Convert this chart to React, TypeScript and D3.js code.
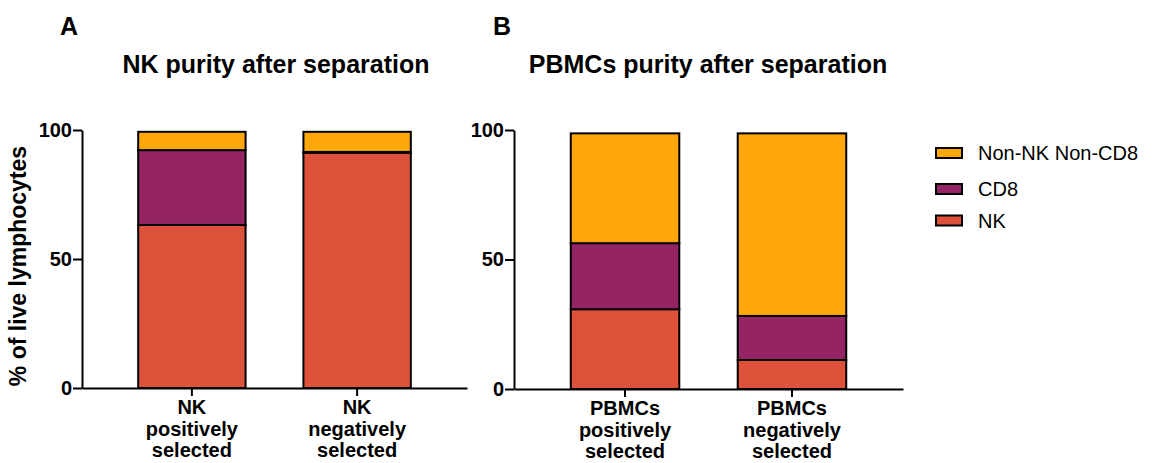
import { useEffect, useRef } from 'react';
import * as d3 from 'd3';

const seriesKeys = ['nk', 'cd8', 'other'];
const seriesLabels = ['NK', 'CD8', 'Non-NK Non-CD8'];
const seriesColors = ['#DE513A', '#952464', '#FDA70B'];

const nkCategories = [['NK', 'positively', 'selected'], ['NK', 'negatively', 'selected']];
const nkValues = [
  { nk: 63.2, cd8: 29.0, other: 7.1 },
  { nk: 91.2, cd8: 0.3, other: 7.8 },
];

const pbmcCategories = [['PBMCs', 'positively', 'selected'], ['PBMCs', 'negatively', 'selected']];
const pbmcValues = [
  { nk: 30.8, cd8: 25.5, other: 42.4 },
  { nk: 11.2, cd8: 17.0, other: 70.5 },
];

const yTicks = [0, 50, 100];

type Row = { nk: number; cd8: number; other: number };

export default function App() {
  const svgRef = useRef<SVGSVGElement>(null);

  useEffect(() => {
    if (!svgRef.current) return;
    const svg = d3.select(svgRef.current);
    svg.selectAll('*').remove();

    const font = '"Liberation Sans", Arial, sans-serif';

    const drawPanel = (
      letter: string,
      letterX: number,
      title: string,
      titleX: number,
      cats: string[][],
      rows: Row[],
      x0: number,
      x1: number,
      yTop: number,
      yBottom: number,
      showYLabel: boolean,
    ) => {
      const g = svg.append('g');

      g.append('text')
        .attr('x', letterX)
        .attr('y', 35)
        .style('font-family', font)
        .style('font-weight', 'bold')
        .style('font-size', '25px')
        .text(letter);

      g.append('text')
        .attr('x', titleX)
        .attr('y', 73)
        .attr('text-anchor', 'middle')
        .style('font-family', font)
        .style('font-weight', 'bold')
        .style('font-size', '25px')
        .text(title);

      const x = d3.scaleBand<number>()
        .domain(rows.map((_, i) => i))
        .range([x0, x1])
        .paddingInner(0.35)
        .paddingOuter(0.34);

      const y = d3.scaleLinear().domain([0, 100]).range([yBottom, yTop]);

      const stacked = d3.stack<Row>().keys(seriesKeys)(rows);

      stacked.forEach((layer, li) => {
        g.selectAll(null)
          .data(layer)
          .enter()
          .append('rect')
          .attr('x', (_, i) => x(i)!)
          .attr('width', x.bandwidth())
          .attr('y', d => y(d[1]))
          .attr('height', d => y(d[0]) - y(d[1]))
          .attr('fill', seriesColors[li])
          .attr('stroke', '#000')
          .attr('stroke-width', 2);
      });

      // y axis
      const yAxis = g.append('g')
        .attr('transform', `translate(${x0},0)`)
        .call(d3.axisLeft(y).tickValues(yTicks).tickSize(9).tickPadding(1).tickSizeOuter(0));
      yAxis.select('.domain').attr('stroke', '#000').attr('stroke-width', 2);
      yAxis.selectAll('line').attr('stroke', '#000').attr('stroke-width', 2);
      yAxis.selectAll('text')
        .style('font-family', font)
        .style('font-weight', 'bold')
        .style('font-size', '20px')
        .attr('fill', '#000');

      // x axis
      const xAxis = g.append('g')
        .attr('transform', `translate(0,${yBottom})`)
        .call(d3.axisBottom(x).tickSize(8).tickSizeOuter(0).tickFormat(() => ''));
      xAxis.select('.domain').attr('stroke', '#000').attr('stroke-width', 2);
      xAxis.selectAll('line').attr('stroke', '#000').attr('stroke-width', 2);

      cats.forEach((lines, i) => {
        const cx = x(i)! + x.bandwidth() / 2;
        lines.forEach((line, li) => {
          g.append('text')
            .attr('x', cx)
            .attr('y', yBottom + 26 + li * 21.5)
            .attr('text-anchor', 'middle')
            .style('font-family', font)
            .style('font-weight', 'bold')
            .style('font-size', '20px')
            .text(line);
        });
      });

      if (showYLabel) {
        g.append('text')
          .attr('transform', `translate(26,266) rotate(-90)`)
          .attr('text-anchor', 'middle')
          .style('font-family', font)
          .style('font-weight', 'bold')
          .style('font-size', '23px')
          .text('% of live lymphocytes');
      }
    };

    drawPanel('A', 60, 'NK purity after separation', 276, nkCategories, nkValues, 82, 467, 130, 388, true);
    drawPanel('B', 493, 'PBMCs purity after separation', 708, pbmcCategories, pbmcValues, 514, 903, 130, 389, false);

    // legend
    const legend = svg.append('g').attr('transform', 'translate(936,0)');
    const legendY = [220.5, 189, 153];
    seriesKeys.forEach((_, i) => {
      legend.append('rect')
        .attr('x', 0)
        .attr('y', legendY[i] - 5)
        .attr('width', 26)
        .attr('height', 10)
        .attr('fill', seriesColors[i])
        .attr('stroke', '#000')
        .attr('stroke-width', 2);
      legend.append('text')
        .attr('x', 42)
        .attr('y', legendY[i])
        .attr('dominant-baseline', 'central')
        .style('font-family', font)
        .style('font-size', '20px')
        .text(seriesLabels[i]);
    });
  }, []);

  return (
    <svg
      ref={svgRef}
      width={1156}
      height={463}
      style={{ position: 'absolute', left: 0, top: 0, background: '#fff' }}
    />
  );
}
